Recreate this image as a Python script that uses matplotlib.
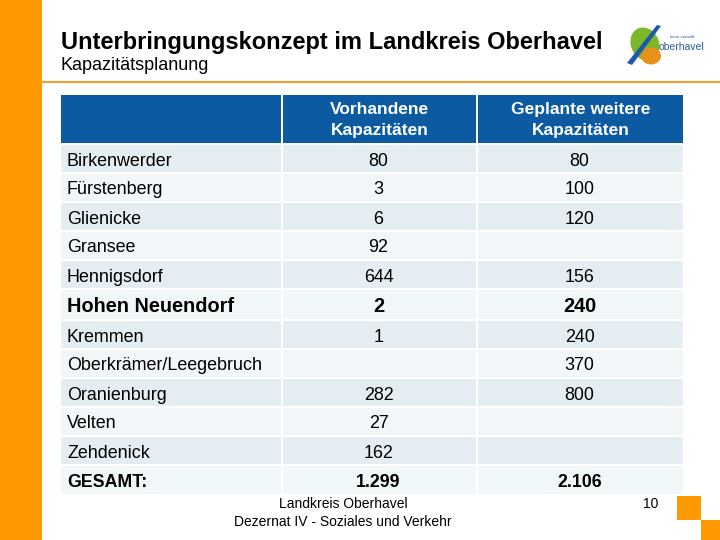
import matplotlib.pyplot as plt
from matplotlib.patches import Rectangle, Ellipse, Polygon

plt.rcParams['font.family'] = ['Liberation Sans', 'DejaVu Sans']

title = "Unterbringungskonzept im Landkreis Oberhavel"
subtitle = "Kapazitätsplanung"
col_headers = ["", "Vorhandene\nKapazitäten", "Geplante weitere\nKapazitäten"]
towns = ["Birkenwerder", "Fürstenberg", "Glienicke", "Gransee", "Hennigsdorf",
         "Hohen Neuendorf", "Kremmen", "Oberkrämer/Leegebruch", "Oranienburg",
         "Velten", "Zehdenick", "GESAMT:"]
existing = ["80", "3", "6", "92", "644", "2", "1", "", "282", "27", "162", "1.299"]
planned = ["80", "100", "120", "", "156", "240", "240", "370", "800", "", "", "2.106"]
footer = ["Landkreis Oberhavel", "Dezernat IV - Soziales und Verkehr"]
page = "10"

ORANGE = '#ff9900'
BLUE = '#0b5aa2'
ROW_A = '#e4eef2'
ROW_B = '#f1f6f8'

fig = plt.figure(figsize=(7.2, 5.4), dpi=100)
ax = fig.add_axes([0, 0, 1, 1])
ax.set_xlim(0, 720)
ax.set_ylim(540, 0)
ax.axis('off')

# slide decoration
ax.add_patch(Rectangle((0, 0), 42, 540, color=ORANGE, lw=0))
ax.plot([42, 720], [82, 82], color='#f0a030', lw=1.5)
ax.add_patch(Rectangle((677, 496), 24, 24, color=ORANGE, lw=0))
ax.add_patch(Rectangle((701, 520), 19, 20, color=ORANGE, lw=0))

ax.text(61, 40, title, fontsize=17, fontweight='bold', va='center_baseline', ha='left')
ax.text(61, 64, subtitle, fontsize=13, va='center_baseline', ha='left')

# logo
ax.add_patch(Ellipse((645, 44), 28, 34, angle=-25, color='#7ab829', lw=0))
ax.add_patch(Ellipse((651, 56), 20, 17, color='#e8901a', lw=0))
ax.add_patch(Polygon([(627, 63), (657, 25), (661, 26), (632, 65)], color='#1e5aa8', lw=0))
ax.text(659, 47, "oberhavel", fontsize=7.5, color='#2a5a9a', va='center')
ax.text(670, 37, "kreis verwalt", fontsize=3.2, color='#2a5a9a', va='center')

# table geometry
x_edges = [61, 281, 476, 683]
gap = 2
head_top, head_bot = 95, 143
row_h = [28, 28, 28, 28, 28, 30, 28, 28, 28, 28, 28, 29]

for j in range(3):
    x0, x1 = x_edges[j], x_edges[j + 1]
    ax.add_patch(Rectangle((x0 + (gap if j else 0), head_top), x1 - x0 - (gap if j else 0),
                           head_bot - head_top, color=BLUE, lw=0))
    if col_headers[j]:
        ax.text((x0 + x1) / 2 + 1, (head_top + head_bot) / 2 + 1, col_headers[j], color='white',
                fontsize=12.5, fontweight='bold', ha='center', va='center', linespacing=1.45)

y = head_bot + 2
for i, town in enumerate(towns):
    h = row_h[i]
    color = ROW_A if i % 2 == 0 else ROW_B
    for j in range(3):
        x0, x1 = x_edges[j], x_edges[j + 1]
        ax.add_patch(Rectangle((x0 + (gap if j else 0), y), x1 - x0 - (gap if j else 0),
                               h - gap + 1, color=color, lw=0))
    cy = y + h / 2
    if town == "Hohen Neuendorf":
        fs, fw = 14.3, 'bold'
    elif town == "GESAMT:":
        fs, fw = 12.8, 'bold'
    else:
        fs, fw = 12.9, 'normal'
    ax.text(67, cy, town, fontsize=fs, fontweight=fw, va='center_baseline', ha='left')
    ax.text((x_edges[1] + x_edges[2]) / 2, cy, existing[i], fontsize=fs, fontweight=fw,
            va='center_baseline', ha='center')
    ax.text((x_edges[2] + x_edges[3]) / 2, cy, planned[i], fontsize=fs, fontweight=fw,
            va='center_baseline', ha='center')
    y += h + 1

ax.text(343, 503, footer[0], fontsize=10, ha='center', va='center_baseline')
ax.text(343, 521, footer[1], fontsize=10, ha='center', va='center_baseline')
ax.text(651, 503, page, fontsize=10, ha='center', va='center_baseline')

fig.savefig("out.png", dpi=100)
